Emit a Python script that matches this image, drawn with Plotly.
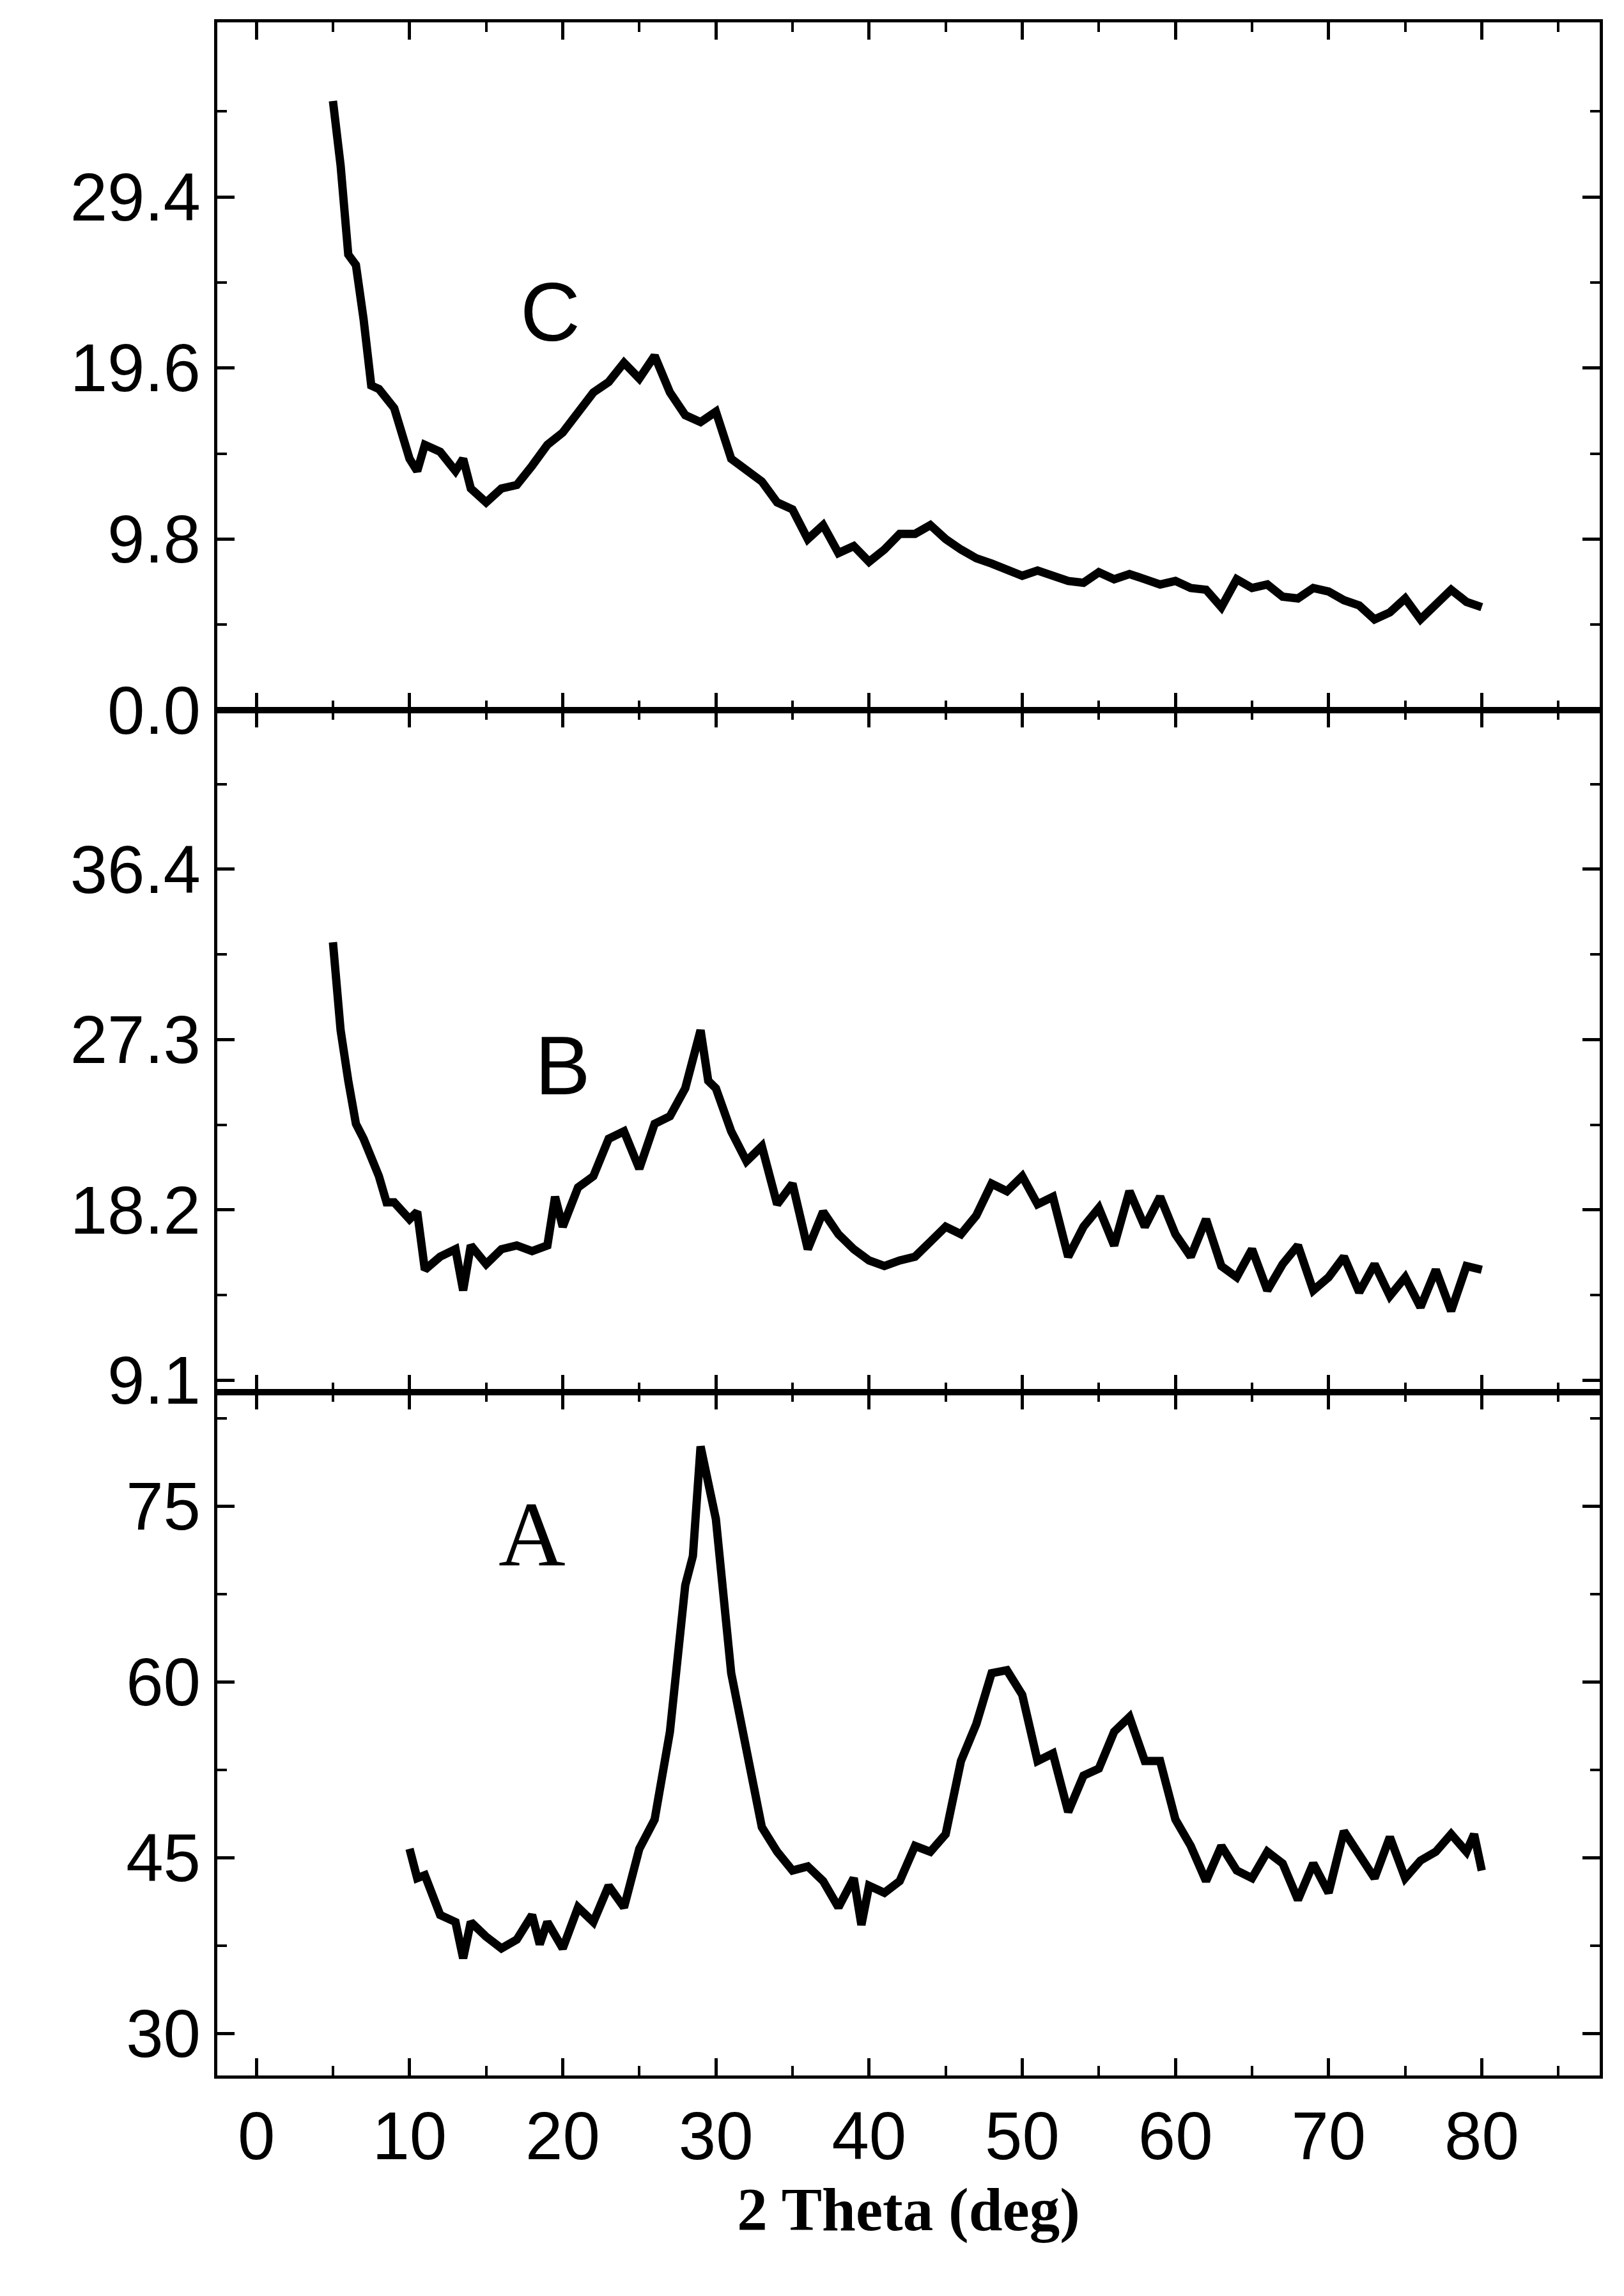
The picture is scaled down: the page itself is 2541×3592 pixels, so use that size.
import plotly.graph_objects as go
from plotly.subplots import make_subplots

xC = [5,5.5,6,6.5,7,7.5,8,9,10,10.5,11,12,13,13.5,14,15,16,17,18,19,20,21,22,23,24,25,26,27,28,29,30,31,32,33,34,35,36,37,38,39,40,41,42,43,44,45,46,47,48,49,50,51,52,53,54,55,56,57,58,59,60,61,62,63,64,65,66,67,68,69,70,71,72,73,74,75,76,77,78,79,80]
yC = [34.9,31.2,26.1,25.5,22.4,18.6,18.4,17.3,14.4,13.7,15.2,14.8,13.7,14.4,12.7,11.9,12.7,12.9,14.0,15.2,15.9,17.1,18.2,18.8,19.9,19.0,20.3,18.2,16.9,16.5,17.1,14.4,13.7,13.1,11.9,11.5,9.8,10.6,9.0,9.4,8.5,9.2,10.1,10.1,10.6,9.8,9.2,8.7,8.4,8.1,7.7,8.0,7.7,7.4,7.3,7.9,7.5,7.8,7.5,7.2,7.4,7.0,6.9,5.9,7.5,7.0,7.2,6.5,6.4,7.0,6.8,6.3,6.0,5.2,5.6,6.4,5.2,6.0,6.9,6.2,5.9]

xB = [5,5.5,6,6.5,7,8,8.5,9,10,10.5,11,12,13,13.5,14,15,16,17,18,19,19.5,20,21,22,23,24,25,26,27,28,29,29.5,30,31,32,33,34,35,36,37,38,39,40,41,42,43,44,45,46,47,48,49,50,51,52,53,54,55,56,57,58,59,60,61,62,63,64,65,66,67,68,69,70,71,72,73,74,75,76,77,78,79,80]
yB = [32.5,27.8,25.1,22.8,22.0,20.0,18.6,18.6,17.7,18.1,15.0,15.7,16.1,13.9,16.3,15.3,16.1,16.3,16.0,16.3,18.9,17.3,19.4,20.0,22.0,22.4,20.4,22.8,23.2,24.7,27.8,25.1,24.7,22.4,20.8,21.6,18.5,19.6,16.1,18.1,16.9,16.1,15.5,15.2,15.5,15.7,16.5,17.3,16.9,17.9,19.6,19.2,20.0,18.5,18.9,15.7,17.3,18.3,16.3,19.2,17.3,18.9,16.9,15.7,17.7,15.2,14.6,16.1,13.9,15.3,16.3,13.9,14.6,15.7,13.8,15.3,13.6,14.6,13.0,15.0,12.8,15.2,15.0]

xA = [10,10.5,11,12,13,13.5,14,15,16,17,18,18.5,19,20,21,22,23,24,25,26,27,28,28.5,29,29.5,30,31,32,33,34,35,36,37,38,39,39.5,40,41,42,43,44,45,46,47,48,49,50,51,52,53,54,55,56,57,58,59,60,61,62,63,64,65,66,67,68,69,70,71,72,73,74,75,76,77,78,79,79.5,80]
yA = [45.75,43.25,43.5,40.1,39.5,36.4,39.5,38.25,37.25,38,40.1,37.6,39.5,37.25,40.75,39.5,42.6,40.75,45.75,48.25,55.75,68.25,70.75,80.1,77,73.9,60.75,54.5,47.6,45.5,43.9,44.25,43,40.75,43.25,39.25,42.6,42,43,46,45.5,47,53.25,56.4,60.75,61,58.9,53.25,53.9,48.9,52,52.6,55.75,57,53.25,53.25,48.25,46,43,46,43.9,43.25,45.5,44.5,41.4,44.5,42,47.25,45.1,43.25,46.75,43.25,44.75,45.5,47,45.5,47,43.9]

fig = make_subplots(rows=3, cols=1, shared_xaxes=True, vertical_spacing=0,
                    row_heights=[0.335, 0.3321, 0.3329])
line = dict(color="black", width=13)
fig.add_trace(go.Scatter(x=xC, y=yC, mode="lines", line=line), 1, 1)
fig.add_trace(go.Scatter(x=xB, y=yB, mode="lines", line=line), 2, 1)
fig.add_trace(go.Scatter(x=xA, y=yA, mode="lines", line=line), 3, 1)

tf = dict(family="Liberation Sans, Arial", size=105, color="black")
mn = dict(ticks="inside", ticklen=15, tickwidth=4, tickcolor="black")
common = dict(showline=True, linecolor="black", linewidth=5, mirror="ticks",
              ticks="inside", ticklen=27, tickwidth=5, tickcolor="black",
              showgrid=False, zeroline=False, tickfont=tf)
for r in (1, 2, 3):
    fig.update_xaxes(range=[-2.55, 87.7], tick0=0, dtick=10, showticklabels=(r == 3),
                     minor=dict(dtick=5, **mn), row=r, col=1, **common)
fig.update_yaxes(range=[0, 39.4], tickvals=[0, 9.8, 19.6, 29.4], ticktext=["0.0","9.8","19.6","29.4"],
                 minor=dict(tickvals=[4.9,14.7,24.5,34.3], **mn), row=1, col=1, **common)
fig.update_yaxes(range=[8.47, 44.9], tickvals=[9.1, 18.2, 27.3, 36.4],
                 minor=dict(tickvals=[13.65,22.75,31.85,40.95], **mn), row=2, col=1, **common)
fig.update_yaxes(range=[26.4, 84.75], tickvals=[30, 45, 60, 75],
                 minor=dict(tickvals=[37.5,52.5,67.5,82.5], **mn), row=3, col=1, **common)
fig.update_xaxes(title=dict(text="<b>2 Theta (deg)</b>", font=dict(family="Liberation Serif, Times New Roman", size=95, color="black"), standoff=25), row=3, col=1)

fig.add_annotation(x=19.2, y=22.8, xref="x", yref="y", text="C", showarrow=False,
                   font=dict(family="Liberation Sans, Arial", size=130, color="black"))
fig.add_annotation(x=20, y=25.9, xref="x2", yref="y2", text="B", showarrow=False,
                   font=dict(family="Liberation Sans, Arial", size=130, color="black"))
fig.add_annotation(x=18, y=72.6, xref="x3", yref="y3", text="A", showarrow=False,
                   font=dict(family="Liberation Serif, Times New Roman", size=145, color="black"))

fig.update_layout(width=2541, height=3592, showlegend=False, plot_bgcolor="white", paper_bgcolor="white",
                  margin=dict(l=332, r=46, t=27, b=353))
fig.write_html("out.html")
